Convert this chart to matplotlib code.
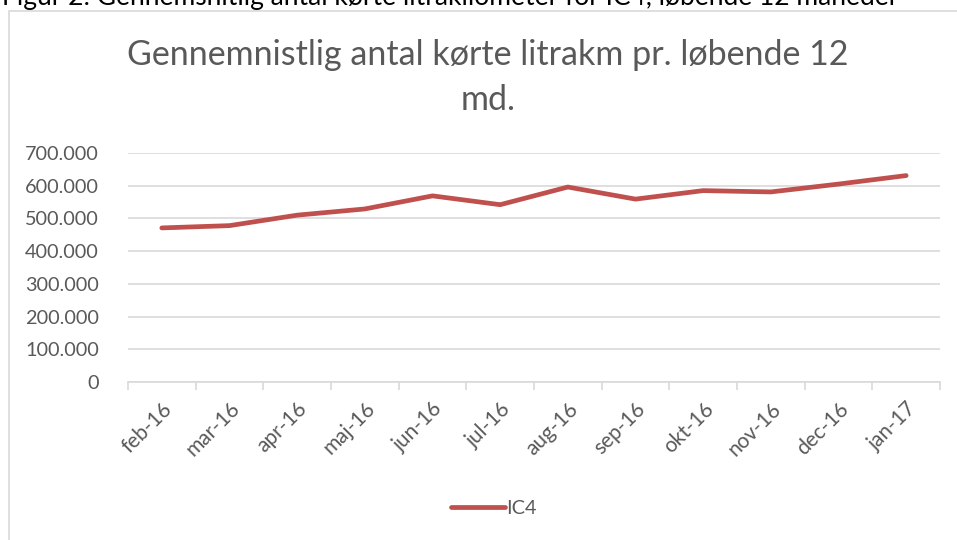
import matplotlib
matplotlib.use("Agg")
import matplotlib.pyplot as plt
from matplotlib.ticker import FuncFormatter, FixedLocator
from matplotlib.patches import Rectangle

categories = ["feb-16", "mar-16", "apr-16", "maj-16", "jun-16", "jul-16",
              "aug-16", "sep-16", "okt-16", "nov-16", "dec-16", "jan-17"]
ic4 = [471000, 478000, 510000, 529000, 569000, 542000,
       596000, 559000, 585000, 581000, 605000, 631000]
yticks = [0, 100000, 200000, 300000, 400000, 500000, 600000, 700000]

plt.rcParams['font.family'] = ['Lato', 'DejaVu Sans']

W, H = 957, 540
fig = plt.figure(figsize=(W / 100, H / 100), dpi=100)
fig.patch.set_facecolor("white")

# chart border
fig.patches.append(Rectangle((9 / W, -0.1), 1.2, (H - 11) / H + 0.1,
                             transform=fig.transFigure, fill=False,
                             edgecolor="#d9d9d9", linewidth=1.2))

# clipped caption at top
fig.text(2 / W, 1 - 5 / H, "Figur 2: Gennemsnitlig antal kørte litrakilometer for IC4, løbende 12 måneder",
         fontsize=19, color="black", va="baseline", ha="left")

ax = fig.add_axes([128 / W, (H - 382) / H, (940 - 128) / W, (382 - 153) / H])
x = list(range(len(categories)))
line, = ax.plot(x, ic4, color="#c0504d", linewidth=3.4, solid_capstyle="round",
                solid_joinstyle="round", label="IC4")

ax.set_xlim(-0.5, len(categories) - 0.5)
ax.set_ylim(0, 700000)
ax.set_yticks(yticks)
ax.yaxis.set_major_formatter(FuncFormatter(lambda v, p: "0" if v == 0 else f"{int(v):,}".replace(",", ".")))
ax.grid(axis="y", color="#d9d9d9", linewidth=1.2)
ax.set_axisbelow(True)

ax.set_xticks(x)
ax.set_xticklabels(categories, rotation=45, ha="right", rotation_mode="anchor")
ax.xaxis.set_minor_locator(FixedLocator([i - 0.5 for i in range(len(categories) + 1)]))
ax.tick_params(axis="x", which="major", length=0, pad=12, labelsize=15, labelcolor="#595959")
ax.tick_params(axis="x", which="minor", length=6, color="#d9d9d9", width=1.2)
ax.tick_params(axis="y", length=0, pad=21, labelsize=14.3, labelcolor="#595959")

for s in ["top", "right", "left"]:
    ax.spines[s].set_visible(False)
ax.spines["bottom"].set_color("#d9d9d9")
ax.spines["bottom"].set_linewidth(1.2)

fig.text(488 / W, 1 - 55 / H, "Gennemnistlig antal kørte litrakm pr. løbende 12",
         fontsize=24.5, color="#595959", ha="center", va="center")
fig.text(488 / W, 1 - 100 / H, "md.", fontsize=24.5, color="#595959", ha="center", va="center")

fig.legend(handles=[line], labels=["IC4"], loc="center", bbox_to_anchor=(494 / W, 1 - 508 / H),
           frameon=False, fontsize=14.3, labelcolor="#595959", handlelength=2.7, handletextpad=0.1)

fig.savefig("out.png", dpi=100)
